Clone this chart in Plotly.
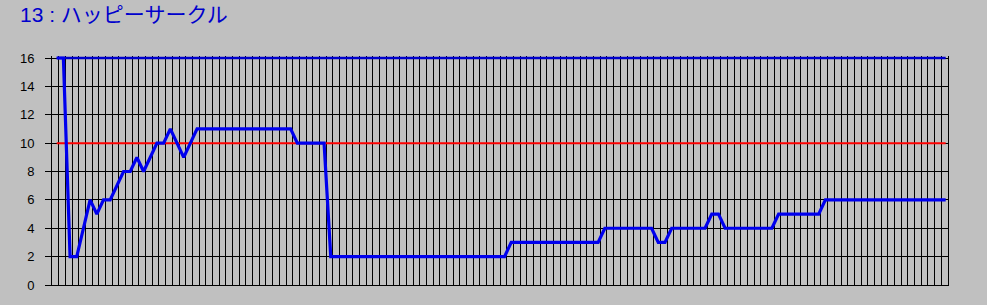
import plotly.graph_objects as go

title_text = "13 : ハッピーサークル"

# race index (categories) 1..134
categories = list(range(1, 135))

values = [
    16, 16, 2, 2, 4, 6, 5, 6, 6, 7, 8, 8, 9, 8, 9, 10, 10, 11, 10, 9,
    10, 11, 11, 11, 11, 11, 11, 11, 11, 11, 11, 11, 11, 11, 11, 11, 10, 10, 10, 10,
    10, 2, 2, 2, 2, 2, 2, 2, 2, 2, 2, 2, 2, 2, 2, 2, 2, 2, 2, 2,
    2, 2, 2, 2, 2, 2, 2, 2, 3, 3, 3, 3, 3, 3, 3, 3, 3, 3, 3, 3,
    3, 3, 4, 4, 4, 4, 4, 4, 4, 4, 3, 3, 4, 4, 4, 4, 4, 4, 5, 5,
    4, 4, 4, 4, 4, 4, 4, 4, 5, 5, 5, 5, 5, 5, 5, 6, 6, 6, 6, 6,
    6, 6, 6, 6, 6, 6, 6, 6, 6, 6, 6, 6, 6, 6,
]

upper_limit = 16
threshold = 10

y_ticks = [0, 2, 4, 6, 8, 10, 12, 14, 16]

BG = "#C0C0C0"

n = len(categories)
# data axis: first point ~4.7px right of the left frame, last ~2.3px left of the right frame
step_px = 889 / (n - 1)
x_lo = categories[0] - 4.7 / step_px
x_hi = categories[-1] + 2.3 / step_px

fig = go.Figure()

# invisible trace to carry the grid axis (one grid cell per category)
fig.add_trace(go.Scatter(
    x=[0, n], y=[None, None], xaxis="x2", mode="lines",
    hoverinfo="skip", showlegend=False,
))
fig.add_trace(go.Scatter(
    x=[categories[0], categories[-1]], y=[threshold, threshold],
    mode="lines", line=dict(color="#FF0000", width=2),
    hoverinfo="skip", showlegend=False,
))
fig.add_trace(go.Scatter(
    x=[categories[0], categories[-1]], y=[upper_limit, upper_limit],
    mode="lines", line=dict(color="#0000CC", width=2.5),
    hoverinfo="skip", showlegend=False,
))
fig.add_trace(go.Scatter(
    x=categories, y=values,
    mode="lines", line=dict(color="#0000EE", width=3.2),
    showlegend=False,
))

fig.update_layout(
    width=987, height=305, autosize=False,
    paper_bgcolor=BG, plot_bgcolor=BG,
    margin=dict(l=52, r=39, t=56, b=20, pad=0),
    title=dict(
        text=title_text,
        x=20 / 987, xanchor="left", xref="container",
        y=1 - 15 / 305, yanchor="middle", yref="container",
        font=dict(family="Liberation Sans, Noto Sans CJK JP, sans-serif", size=21, color="#0000CC"),
    ),
    xaxis=dict(
        range=[x_lo, x_hi],
        showgrid=False, showticklabels=False, ticks="",
        showline=True, linecolor="#000000", linewidth=1,
        zeroline=False, mirror=False,
    ),
    xaxis2=dict(
        overlaying="x", side="bottom",
        range=[0, n], tick0=0, dtick=1,
        showgrid=True, gridcolor="#000000", gridwidth=1,
        showticklabels=False, ticks="", showline=False, zeroline=False,
    ),
    yaxis=dict(
        range=[0, 16 * 229 / 227],
        tickvals=y_ticks, ticktext=[str(v) for v in y_ticks],
        showgrid=True, gridcolor="#000000", gridwidth=1,
        ticks="outside", ticklen=6, tickcolor="#000000", tickwidth=1,
        ticklabelstandoff=8,
        showline=True, linecolor="#000000", linewidth=1, mirror=True,
        zeroline=False,
        tickfont=dict(family="Liberation Sans, Arial, sans-serif", size=13, color="#000000"),
    ),
    font=dict(family="Liberation Sans, Noto Sans CJK JP, sans-serif"),
)

fig.write_html("out.html", include_plotlyjs=True, config={"displayModeBar": False})
